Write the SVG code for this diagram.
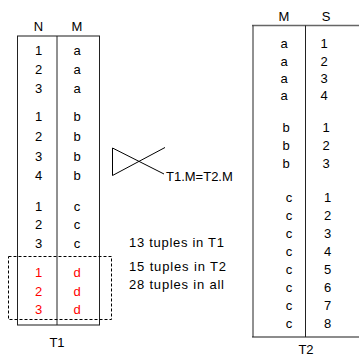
<svg xmlns="http://www.w3.org/2000/svg" width="359" height="357" viewBox="0 0 359 357">
<style>
text{font-family:"Liberation Sans",Arial,sans-serif;font-size:13px;fill:#000;text-anchor:middle}
.l{text-anchor:start}
.r{fill:#ff0000}
.h{stroke:#666;stroke-width:1.5;fill:none}
.v{stroke:#222;stroke-width:1;fill:none}
.b{stroke:#000;stroke-width:1;fill:none}
.d{stroke:#000;stroke-width:1;fill:none;stroke-dasharray:3,2}
</style>
<rect width="359" height="357" fill="#fff"/>
<g id="T1">
<text x="38.5" y="30.5">N</text><text x="77" y="30.5">M</text>
<line class="h" x1="17" y1="36" x2="100" y2="36"/>
<line class="h" x1="17" y1="325" x2="100" y2="325"/>
<line class="v" x1="17.5" y1="36" x2="17.5" y2="325"/>
<line class="v" x1="57" y1="36" x2="57" y2="325"/>
<line class="v" x1="99.5" y1="36" x2="99.5" y2="325"/>
<text x="38.5" y="55">1</text><text x="77" y="55">a</text>
<text x="38.5" y="74">2</text><text x="77" y="74">a</text>
<text x="38.5" y="93">3</text><text x="77" y="93">a</text>
<text x="38.5" y="121">1</text><text x="77" y="121">b</text>
<text x="38.5" y="141">2</text><text x="77" y="141">b</text>
<text x="38.5" y="161">3</text><text x="77" y="161">b</text>
<text x="38.5" y="180">4</text><text x="77" y="180">b</text>
<text x="38.5" y="211">1</text><text x="77" y="211">c</text>
<text x="38.5" y="229">2</text><text x="77" y="229">c</text>
<text x="38.5" y="248">3</text><text x="77" y="248">c</text>
<text class="r" x="38.5" y="277">1</text><text class="r" x="77" y="277">d</text>
<text class="r" x="38.5" y="296">2</text><text class="r" x="77" y="296">d</text>
<text class="r" x="38.5" y="314">3</text><text class="r" x="77" y="314">d</text>
<rect class="d" x="8.5" y="256.5" width="103" height="63"/>
<text x="57" y="346.5">T1</text>
</g>
<g id="T2">
<text x="284" y="21">M</text><text x="326" y="21">S</text>
<line class="h" x1="252" y1="25.5" x2="359" y2="25.5"/>
<line class="h" x1="252" y1="337" x2="359" y2="337"/>
<line class="v" x1="253" y1="25.5" x2="253" y2="337"/>
<line class="v" x1="305.5" y1="25.5" x2="305.5" y2="337"/>
<text x="284" y="48">a</text><text x="324" y="48">1</text>
<text x="284" y="65.5">a</text><text x="324" y="65.5">2</text>
<text x="284" y="83">a</text><text x="324" y="83">3</text>
<text x="284" y="100">a</text><text x="324" y="100">4</text>
<text x="286" y="132">b</text><text x="326" y="132">1</text>
<text x="286" y="150">b</text><text x="326" y="150">2</text>
<text x="286" y="168">b</text><text x="326" y="168">3</text>
<text x="289" y="202">c</text><text x="327.5" y="202">1</text>
<text x="289" y="220">c</text><text x="327.5" y="220">2</text>
<text x="289" y="238">c</text><text x="327.5" y="238">3</text>
<text x="289" y="256">c</text><text x="327.5" y="256">4</text>
<text x="289" y="274">c</text><text x="327.5" y="274">5</text>
<text x="289" y="292">c</text><text x="327.5" y="292">6</text>
<text x="289" y="310">c</text><text x="327.5" y="310">7</text>
<text x="289" y="328">c</text><text x="327.5" y="328">8</text>
<text x="306" y="354">T2</text>
</g>
<g id="join">
<path class="b" d="M112.5,148 V175.5 M112.5,148 L164,174 M112.5,175.5 L165,147.5"/>
<text class="l" x="166" y="180.5">T1.M=T2.M</text>
</g>
<g id="counts">
<text class="l" x="129" y="247" textLength="95" lengthAdjust="spacing">13 tuples in T1</text>
<text class="l" x="129" y="270.5" textLength="97" lengthAdjust="spacing">15 tuples in T2</text>
<text class="l" x="129" y="289" textLength="95" lengthAdjust="spacing">28 tuples in all</text>
</g>
</svg>
